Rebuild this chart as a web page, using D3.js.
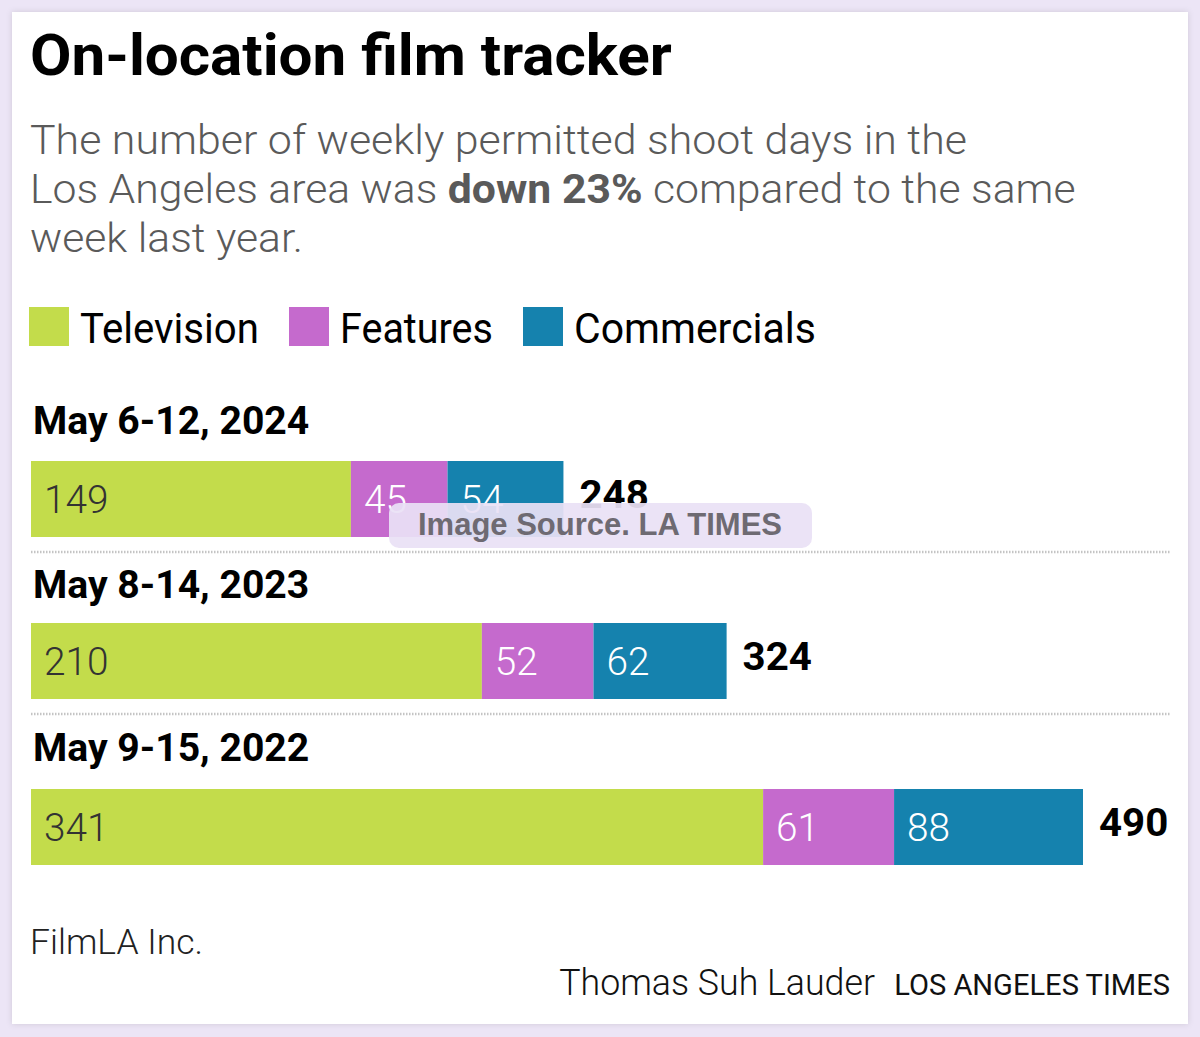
<!DOCTYPE html>
<html><head><meta charset="utf-8">
<script src="https://cdn.jsdelivr.net/npm/d3@7"></script>
<style>
html,body{margin:0;padding:0;background:#ece5f6;}
svg{display:block;}
</style></head>
<body>
<svg id="chart" width="1200" height="1037"></svg>
<script>
const periods = ["May 6-12, 2024", "May 8-14, 2023", "May 9-15, 2022"];
const seriesNames = ["Television", "Features", "Commercials"];
const television = [149, 210, 341];
const features = [45, 52, 61];
const commercials = [54, 62, 88];
const totals = [248, 324, 490];
const colors = ["#c3dc4b", "#c56acd", "#1582ae"];
const labelColors = ["#333333", "#ffffff", "#ffffff"];

const svg = d3.select("#chart");
const narrow = "Roboto, 'Liberation Sans', sans-serif";

// stretch a text horizontally, either to a target width or by a factor
function stretch(sel, target, factor) {
  const w = sel.node().getComputedTextLength();
  const s = target ? target / w : factor;
  const x = +sel.attr("x"), y = +sel.attr("y");
  sel.attr("x", 0).attr("y", 0).attr("transform", `translate(${x},${y}) scale(${s},1)`);
  return sel;
}

// card
svg.append("defs").append("filter").attr("id","sh").attr("x","-5%").attr("y","-5%").attr("width","110%").attr("height","110%")
  .append("feDropShadow").attr("dx",0).attr("dy",0).attr("stdDeviation",3).attr("flood-color","#000").attr("flood-opacity",0.12);
svg.append("rect").attr("x",12).attr("y",12).attr("width",1176).attr("height",1012).attr("fill","#fff").attr("filter","url(#sh)");

// title
stretch(svg.append("text").attr("x",30).attr("y",75).attr("font-family",narrow).attr("font-weight","bold")
  .attr("font-size",58).attr("fill","#000").text("On-location film tracker"), 642);

// subtitle
const sub = svg.append("g").attr("font-family",narrow).attr("font-size",40).attr("fill","#5a5a5a").attr("font-weight",300);
stretch(sub.append("text").attr("x",30).attr("y",154).text("The number of weekly permitted shoot days in the"), 937);
const l2 = sub.append("text").attr("x",30).attr("y",203);
l2.append("tspan").text("Los Angeles area was ");
l2.append("tspan").attr("font-weight","bold").text("down 23%");
l2.append("tspan").text(" compared to the same");
stretch(l2, 1046);
stretch(sub.append("text").attr("x",30).attr("y",252).text("week last year."), 273);

// legend
const legX = [29, 289, 523];
const legW = [179, 153, 242];
const leg = svg.append("g");
seriesNames.forEach((n,i)=>{
  leg.append("rect").attr("x",legX[i]).attr("y",307).attr("width",40).attr("height",39).attr("fill",colors[i]);
  stretch(leg.append("text").attr("x",legX[i]+51).attr("y",343).attr("font-family",narrow).attr("font-size",42)
    .attr("fill","#000").text(n), legW[i]);
});

// scales
const x = d3.scaleLinear().domain([0, d3.max(totals)]).range([31, 1083]);
const barTop = [461, 623, 789];
const headY = [434, 598, 761];
const barH = 76;

const data = periods.map((p,i)=>({period:p, values:[television[i], features[i], commercials[i]], total: totals[i]}));

data.forEach((d,i)=>{
  const g = svg.append("g");
  stretch(g.append("text").attr("x",33).attr("y",headY[i]).attr("font-family",narrow).attr("font-weight","bold")
    .attr("font-size",38).attr("fill","#000").text(d.period), null, 1.03);
  let cum = 0;
  d.values.forEach((v,j)=>{
    const x0 = x(cum), x1 = x(cum+v);
    g.append("rect").attr("x",x0).attr("y",barTop[i]).attr("width",x1-x0).attr("height",barH).attr("fill",colors[j]);
    stretch(g.append("text").attr("x",x0+13).attr("y",barTop[i]+52).attr("font-family",narrow)
      .attr("font-size",38).attr("font-weight",300).attr("fill",labelColors[j]).text(v), null, 1.02);
    cum += v;
  });
  stretch(g.append("text").attr("x",x(d.total)+16).attr("y",barTop[i]+47).attr("font-family",narrow).attr("font-weight","bold")
    .attr("font-size",38).attr("fill","#000").text(d.total), null, 1.06);
  if(i<2){
    g.append("line").attr("x1",31).attr("x2",1170).attr("y1",barTop[i]+91).attr("y2",barTop[i]+91)
      .attr("stroke","#c4c4c4").attr("stroke-width",2.5).attr("stroke-dasharray","1.5,1.5");
  }
});

// watermark
const wm = svg.append("g");
wm.append("rect").attr("x",389).attr("y",503).attr("width",423).attr("height",45).attr("rx",10)
  .attr("fill","#e9e1f5").attr("fill-opacity",0.93);
wm.append("text").attr("x",600).attr("y",535).attr("text-anchor","middle").attr("font-family","'Liberation Sans', Arial, sans-serif")
  .attr("font-weight","bold").attr("font-size",31).attr("fill","#6e6a72").text("Image Source. LA TIMES");

// footer
stretch(svg.append("text").attr("x",30).attr("y",954).attr("font-family",narrow).attr("font-size",35).attr("font-weight",300)
  .attr("fill","#222").text("FilmLA Inc."), 173);
stretch(svg.append("text").attr("x",1170).attr("y",995).attr("text-anchor","end").attr("font-family",narrow).attr("font-size",29)
  .attr("fill","#111").text("LOS ANGELES TIMES"), 276);
stretch(svg.append("text").attr("x",875).attr("y",995).attr("text-anchor","end").attr("font-family",narrow).attr("font-size",36)
  .attr("font-weight",300).attr("fill","#111").text("Thomas Suh Lauder"), 316);
</script>
</body></html>
